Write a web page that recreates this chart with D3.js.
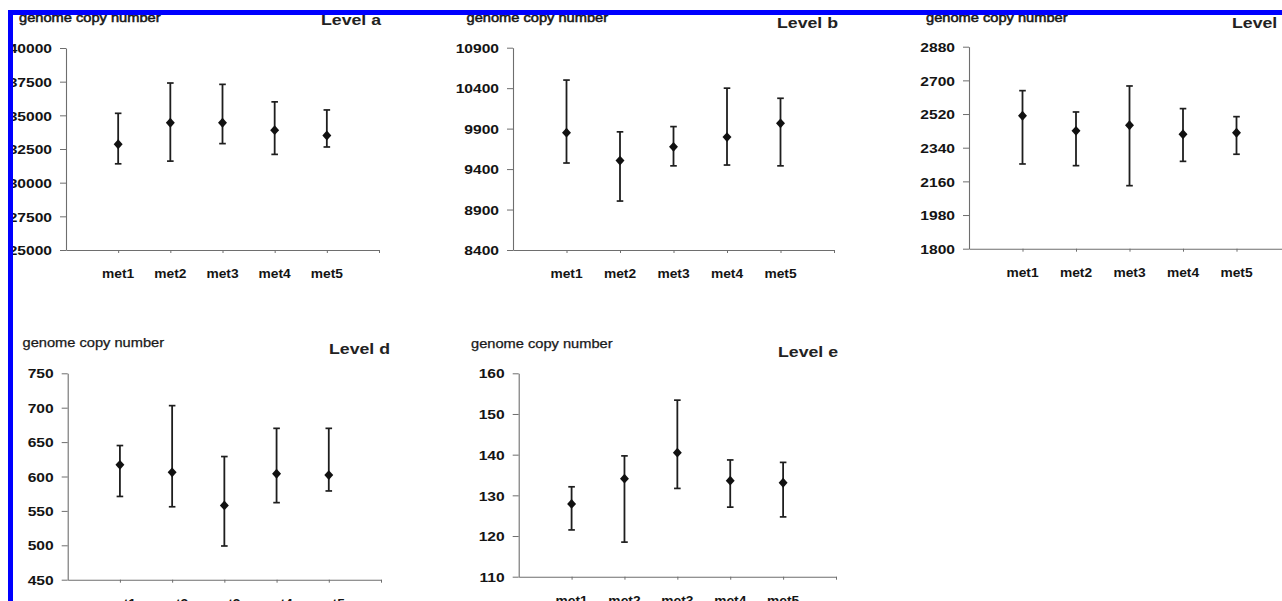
<!DOCTYPE html>
<html>
<head>
<meta charset="utf-8">
<script src="https://cdn.jsdelivr.net/npm/d3@7"></script>
<style>
  html, body { margin: 0; padding: 0; background: #fff; }
  svg { display: block; }
</style>
</head>
<body>
<svg id="chart" width="1282" height="601"></svg>
<script>
// ---------- DATA ----------
const categories = ["met1", "met2", "met3", "met4", "met5"];
const yAxisLabel = "genome copy number";

const levelA_title = "Level a";
const levelA_mean = [32850, 34450, 34450, 33900, 33500];
const levelA_high = [35150, 37400, 37300, 36000, 35400];
const levelA_low  = [31400, 31600, 32900, 32100, 32650];
const levelA_ticks = [25000, 27500, 30000, 32500, 35000, 37500, 40000];

const levelB_title = "Level b";
const levelB_mean = [9850, 9505, 9675, 9795, 9965];
const levelB_high = [10500, 9860, 9925, 10400, 10275];
const levelB_low  = [9475, 9005, 9440, 9450, 9440];
const levelB_ticks = [8400, 8900, 9400, 9900, 10400, 10900];

const levelC_title = "Level c";
const levelC_mean = [2511, 2430, 2460, 2412, 2420];
const levelC_high = [2645, 2531, 2670, 2549, 2506];
const levelC_low  = [2253, 2244, 2137, 2267, 2305];
const levelC_ticks = [1800, 1980, 2160, 2340, 2520, 2700, 2880];

const levelD_title = "Level d";
const levelD_mean = [617, 606, 558, 604, 602];
const levelD_high = [645, 703, 629, 670, 670];
const levelD_low  = [571, 556, 499, 562, 579];
const levelD_ticks = [450, 500, 550, 600, 650, 700, 750];

const levelE_title = "Level e";
const levelE_mean = [127.9, 134.1, 140.5, 133.6, 133.1];
const levelE_high = [132.1, 139.7, 153.4, 138.7, 138.1];
const levelE_low  = [121.5, 118.5, 131.7, 127.1, 124.7];
const levelE_ticks = [110, 120, 130, 140, 150, 160];

// ---------- LAYOUT ----------
const panels = [
  { title: levelA_title, mean: levelA_mean, high: levelA_high, low: levelA_low, ticks: levelA_ticks,
    x0: 66, x1: 379, yTop: 48, yBot: 250, labX: 19, labY: 22, titX: 321, titY: 25 },
  { title: levelB_title, mean: levelB_mean, high: levelB_high, low: levelB_low, ticks: levelB_ticks,
    x0: 513, x1: 834, yTop: 47.7, yBot: 250, labX: 466.5, labY: 22, titX: 777, titY: 28 },
  { title: levelC_title, mean: levelC_mean, high: levelC_high, low: levelC_low, ticks: levelC_ticks,
    x0: 969, x1: 1290, yTop: 46.7, yBot: 248.7, labX: 926, labY: 22, titX: 1232, titY: 28 },
  { title: levelD_title, mean: levelD_mean, high: levelD_high, low: levelD_low, ticks: levelD_ticks,
    x0: 67.7, x1: 381, yTop: 373.3, yBot: 579.7, labX: 22.5, labY: 346.5, titX: 329, titY: 354 },
  { title: levelE_title, mean: levelE_mean, high: levelE_high, low: levelE_low, ticks: levelE_ticks,
    x0: 518.7, x1: 836, yTop: 373.3, yBot: 576.7, labX: 471, labY: 348, titX: 778, titY: 356.5 }
];

const svg = d3.select("#chart");
svg.append("rect").attr("width", 1282).attr("height", 601).attr("fill", "#fff");

const FONT = "Arial, 'Liberation Sans', Helvetica, sans-serif";

// stretch text horizontally (the reference glyphs are wider than normal)
function stretch(sel, k, anchor) {
  sel.each(function () {
    const t = d3.select(this);
    t.attr("text-anchor", "start");
    const w = this.getComputedTextLength();
    const W = w * k;
    t.attr("textLength", W).attr("lengthAdjust", "spacingAndGlyphs");
    const x = +t.attr("x") || 0;
    if (anchor === "end") t.attr("x", x - W);
    else if (anchor === "middle") t.attr("x", x - W / 2);
  });
}

panels.forEach((p, pi) => {
  const g = svg.append("g");
  const x = d3.scaleLinear().domain([0, categories.length + 1]).range([p.x0, p.x1]);
  const y = d3.scaleLinear().domain([p.ticks[0], p.ticks[p.ticks.length - 1]]).range([p.yBot, p.yTop]);

  // y axis
  const ya = g.append("g").attr("transform", `translate(${p.x0},0)`)
    .call(d3.axisLeft(y).tickValues(p.ticks).tickSize(6).tickSizeOuter(0).tickPadding(8)
      .tickFormat(d3.format("d")));
  ya.select(".domain").attr("stroke", "#6e6e6e").attr("stroke-width", 1.1);
  ya.selectAll(".tick line").attr("stroke", "#6e6e6e");
  ya.selectAll(".tick text")
    .attr("font-family", FONT).attr("font-size", 13).attr("font-weight", "bold")
    .attr("fill", "#141414").attr("dy", "0.36em");
  stretch(ya.selectAll(".tick text"), 1.2, "end");

  // x axis
  const xa = g.append("g").attr("transform", `translate(0,${p.yBot})`)
    .call(d3.axisBottom(x).tickValues(d3.range(1, categories.length + 2)).tickSize(3).tickSizeOuter(0)
      .tickFormat(""));
  xa.select(".domain").attr("stroke", "#6e6e6e").attr("stroke-width", 1.1);
  xa.selectAll(".tick line").attr("stroke", "#6e6e6e");

  // category labels
  const cl = g.append("g").selectAll("text").data(categories).join("text")
    .attr("x", (d, i) => x(i + 1)).attr("y", p.yBot + 28)
    .attr("font-family", FONT).attr("font-size", 13).attr("font-weight", "bold")
    .attr("fill", "#141414").text(d => d);
  stretch(cl, 1.06, "middle");

  // error bars
  const eb = g.append("g").selectAll("g").data(categories).join("g");
  eb.append("line")
    .attr("x1", (d, i) => x(i + 1)).attr("x2", (d, i) => x(i + 1))
    .attr("y1", (d, i) => y(p.high[i])).attr("y2", (d, i) => y(p.low[i]))
    .attr("stroke", "#1e1e1e").attr("stroke-width", 1.8);
  eb.append("line")
    .attr("x1", (d, i) => x(i + 1) - 3.3).attr("x2", (d, i) => x(i + 1) + 3.3)
    .attr("y1", (d, i) => y(p.high[i])).attr("y2", (d, i) => y(p.high[i]))
    .attr("stroke", "#1e1e1e").attr("stroke-width", 1.7);
  eb.append("line")
    .attr("x1", (d, i) => x(i + 1) - 3.3).attr("x2", (d, i) => x(i + 1) + 3.3)
    .attr("y1", (d, i) => y(p.low[i])).attr("y2", (d, i) => y(p.low[i]))
    .attr("stroke", "#1e1e1e").attr("stroke-width", 1.7);

  // diamond markers
  const sq = d3.symbol().type(d3.symbolSquare).size(40);
  g.append("g").selectAll("path").data(categories).join("path")
    .attr("d", sq)
    .attr("transform", (d, i) => `translate(${x(i + 1)},${y(p.mean[i])}) scale(1,1.1) rotate(45)`)
    .attr("fill", "#111");

  // y label (top row appears heavier in the reference)
  const yl = g.append("text").attr("x", p.labX).attr("y", p.labY)
    .attr("font-family", FONT).attr("font-size", 12).attr("fill", "#1a1a1a")
    .attr("stroke", "#1a1a1a").attr("stroke-width", pi < 3 ? 0.5 : 0.25)
    .text(yAxisLabel);
  stretch(yl, 1.22, "start");

  // title
  const tt = g.append("text").attr("x", p.titX).attr("y", p.titY)
    .attr("font-family", FONT).attr("font-size", 15).attr("font-weight", "bold")
    .attr("fill", "#222").text(p.title);
  stretch(tt, 1.18, "start");
});

// blue frame (top and left edges)
svg.append("rect").attr("x", 8).attr("y", 10).attr("width", 1282 - 8).attr("height", 5).attr("fill", "#0000ff");
svg.append("rect").attr("x", 8).attr("y", 10).attr("width", 5).attr("height", 601 - 10).attr("fill", "#0000ff");
</script>
</body>
</html>
